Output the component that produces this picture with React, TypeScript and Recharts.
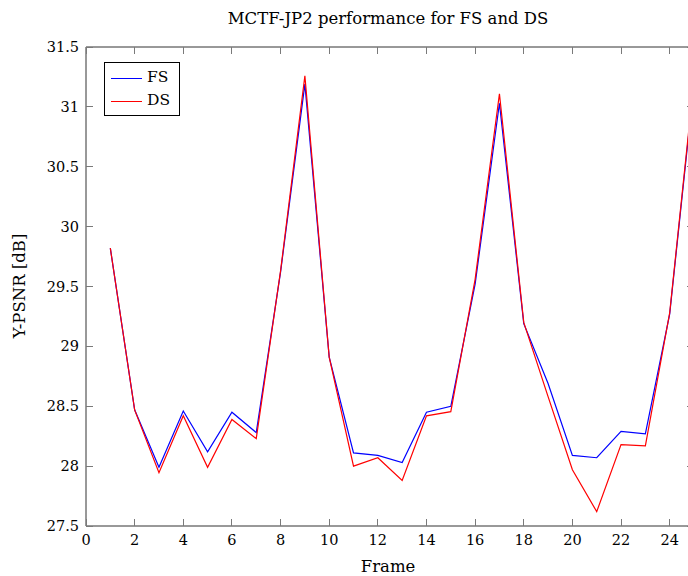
import { LineChart, Line, XAxis, YAxis, Legend, ReferenceLine } from "recharts";

const frames = [1, 2, 3, 4, 5, 6, 7, 8, 9, 10, 11, 12, 13, 14, 15, 16, 17, 18, 19, 20, 21, 22, 23, 24, 25];
const fsPsnr = [29.82, 28.47, 27.99, 28.46, 28.12, 28.45, 28.28, 29.62, 31.19, 28.91, 28.11, 28.09, 28.03, 28.45, 28.5, 29.52, 31.03, 29.19, 28.69, 28.09, 28.07, 28.29, 28.27, 29.27, 31.19];
const dsPsnr = [29.82, 28.47, 27.945, 28.42, 27.99, 28.39, 28.23, 29.63, 31.26, 28.91, 28.0, 28.07, 27.88, 28.42, 28.455, 29.56, 31.11, 29.2, 28.58, 27.97, 27.62, 28.18, 28.17, 29.28, 31.22];
const xTicks = [0, 2, 4, 6, 8, 10, 12, 14, 16, 18, 20, 22, 24];
const yTicks = [27.5, 28, 28.5, 29, 29.5, 30, 30.5, 31, 31.5];

const FONT = "'DejaVu Serif', serif";
const TICK = "#7a7a7a";
const FRAME = "#333";

const W = 720;
const H = 576;
const M = { top: 47, right: 26, left: 0, bottom: 0 };
const PLOT_TOP = M.top;
const PLOT_RIGHT = W - M.right;

const data = frames.map((f, i) => ({ frame: f, fs: fsPsnr[i], ds: dsPsnr[i] }));

const snap = (v: number) => Math.round(v - 0.5) + 0.5;

// ticks drawn inward on all four sides, pgfplots style
const BottomTick = ({ x, y, payload }: any) => {
  const sx = snap(x);
  return (
    <g>
      <line x1={sx} x2={sx} y1={y} y2={y - 7} stroke={TICK} />
      <line x1={sx} x2={sx} y1={PLOT_TOP} y2={PLOT_TOP + 7} stroke={TICK} />
      <text x={x} y={y + 19} textAnchor="middle" fontSize={14.5} fontFamily={FONT} fill="#000">
        {payload.value}
      </text>
    </g>
  );
};

const LeftTick = ({ x, y, payload }: any) => {
  const sy = snap(y);
  return (
    <g>
      <line x1={x} x2={x + 7} y1={sy} y2={sy} stroke={TICK} />
      <line x1={PLOT_RIGHT} x2={PLOT_RIGHT - 7} y1={sy} y2={sy} stroke={TICK} />
      <text x={x - 7} y={y + 5} textAnchor="end" fontSize={14.5} fontFamily={FONT} fill="#000">
        {payload.value}
      </text>
    </g>
  );
};

const LegendBox = () => (
  <div
    style={{
      border: "1px solid #000",
      background: "#fff",
      width: 74,
      height: 52,
      fontFamily: FONT,
      fontSize: 15.5,
      position: "relative",
    }}
  >
    {[
      { name: "FS", color: "#0000ff", top: 15 },
      { name: "DS", color: "#ff0000", top: 38 },
    ].map((d) => (
      <div key={d.name}>
        <div style={{ position: "absolute", left: 6, top: d.top, width: 31, borderTop: `1px solid ${d.color}` }} />
        <div style={{ position: "absolute", left: 42, top: d.top - 10, lineHeight: "18px" }}>{d.name}</div>
      </div>
    ))}
  </div>
);

export default function App() {
  return (
    <div style={{ position: "absolute", left: 0, top: 0, width: 688, height: 576, overflow: "hidden", background: "#fff" }}>
      <div style={{ position: "absolute", left: 88, top: 9, width: 600, textAlign: "center", fontFamily: FONT, fontSize: 16.5, lineHeight: "20px" }}>
        MCTF-JP2 performance for FS and DS
      </div>
      <LineChart width={W} height={H} data={data} margin={M}>
        <XAxis
          dataKey="frame"
          type="number"
          domain={[0, 25]}
          ticks={xTicks}
          interval={0}
          height={50}
          tickSize={0}
          tickMargin={0}
          tick={<BottomTick />}
          axisLine={{ stroke: FRAME }}
        />
        <YAxis
          type="number"
          domain={[27.5, 31.5]}
          ticks={yTicks}
          interval={0}
          width={86}
          tickSize={0}
          tickMargin={0}
          tick={<LeftTick />}
          axisLine={{ stroke: FRAME }}
        />
        <ReferenceLine y={31.5} stroke={FRAME} />
        <ReferenceLine x={25} stroke={FRAME} />
        <Legend
          layout="vertical"
          align="center"
          verticalAlign="middle"
          content={<LegendBox />}
          wrapperStyle={{ position: "absolute", left: 104, top: 62, width: 76, height: 54 }}
        />
        <Line dataKey="fs" name="FS" stroke="#0000ff" strokeWidth={1.2} dot={false} isAnimationActive={false} />
        <Line dataKey="ds" name="DS" stroke="#ff0000" strokeWidth={1.2} dot={false} isAnimationActive={false} />
      </LineChart>
      <div style={{ position: "absolute", left: 88, top: 557, width: 600, textAlign: "center", fontFamily: FONT, fontSize: 16.5, lineHeight: "20px" }}>
        Frame
      </div>
      <div
        style={{
          position: "absolute",
          left: 20,
          top: 286,
          transform: "translate(-50%, -50%) rotate(-90deg)",
          whiteSpace: "nowrap",
          fontFamily: FONT,
          fontSize: 16.5,
          lineHeight: "20px",
        }}
      >
        Y-PSNR [dB]
      </div>
    </div>
  );
}
